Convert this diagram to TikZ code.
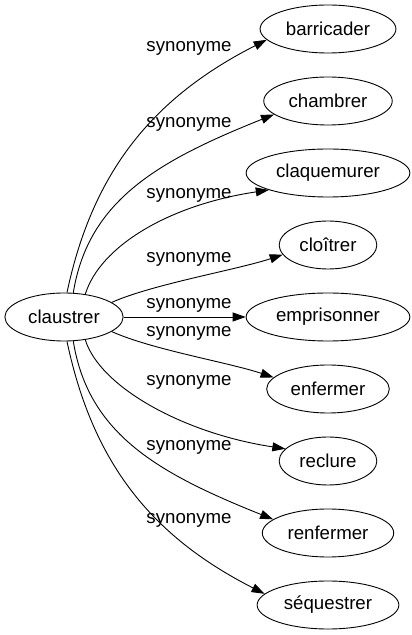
\documentclass[tikz,border=0pt]{standalone}
\usepackage{fontspec}
\setmainfont{Liberation Sans}
\usetikzlibrary{shapes.geometric,arrows.meta}
\tikzset{
      word/.style = { draw, ellipse, inner xsep=6pt, minimum height=48pt, line width=0.9pt,
                      font=\fontsize{18.67}{22}\selectfont },
      link/.style = { -{Triangle[length=13pt,width=9pt]}, line width=0.9pt },
      tag/.style  = { font=\fontsize{18.67}{22}\selectfont }
    }

\begin{document}
\begin{tikzpicture}[x=1pt,y=1pt]
      \useasboundingbox (0,0) rectangle (412,635);

      % Draw all words
      \node[word] (claustrer) at (64,318) {claustrer};
      \foreach \n/\w/\j in {barricader/barricader/606, chambrer/chambrer/534,
                            claquemurer/claquemurer/462, cloitrer/cloîtrer/390,
                            emprisonner/emprisonner/318, enfermer/enfermer/246,
                            reclure/reclure/174, renfermer/renfermer/102,
                            sequestrer/séquestrer/30} {
        \node[word] (\n) at (328,\j) {\w};
      }

      % Draw links
      \draw[link] (claustrer.83) .. controls +(26,123) and +(-112,-57) .. (barricader.190);
      \draw[link] (claustrer.69) .. controls +(15,93) and +(-115,-46) .. (chambrer.194);
      \draw[link] (claustrer.47) .. controls +(15,48) and +(-100,-15) .. (claquemurer.196);
      \draw[link] (claustrer.17) .. controls +(40,18) and +(-45,-15) .. (cloitrer.192);
      \draw[link] (claustrer) -- (emprisonner);
      \draw[link] (claustrer.343) .. controls +(40,-18) and +(-45,15) .. (enfermer.168);
      \draw[link] (claustrer.313) .. controls +(15,-48) and +(-100,15) .. (reclure.164);
      \draw[link] (claustrer.291) .. controls +(15,-93) and +(-115,46) .. (renfermer.166);
      \draw[link] (claustrer.277) .. controls +(26,-123) and +(-112,57) .. (sequestrer.170);

      % Draw labels
      \foreach \j in {587,511,440,376,330,302,253,188,115} {
        \node[tag] (tag\j) at (189,\j) {synonyme};
      }
\end{tikzpicture}
\end{document}
